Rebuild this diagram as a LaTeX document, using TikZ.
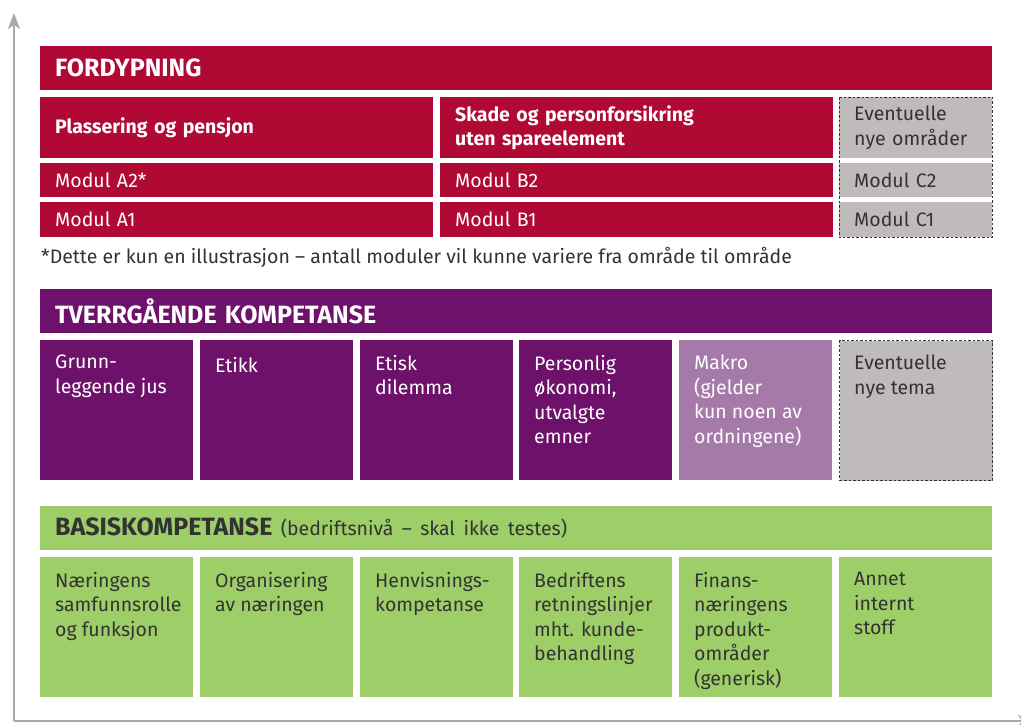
\documentclass[tikz,border=0pt]{standalone}
\usepackage{fontspec}
\setmainfont{Fira Sans}
\usetikzlibrary{arrows.meta}

\definecolor{fordred}{RGB}{176,10,52}
\definecolor{tverrpurple}{RGB}{110,17,106}
\definecolor{makropurple}{RGB}{166,122,168}
\definecolor{basisgreen}{RGB}{158,206,104}
\definecolor{newgray}{RGB}{191,187,187}
\definecolor{darktext}{RGB}{51,51,51}
\definecolor{axisgray}{RGB}{170,170,170}

\tikzset{
  axis/.style={draw=axisgray, line width=2pt, -{Stealth[length=16pt,width=12pt,inset=4pt]}},
  band/.style={rectangle, anchor=north west, inner sep=0pt, inner xsep=15pt,
    minimum height=44pt, text width=922pt, align=left,
    font=\fontsize{25}{28}\selectfont\bfseries},
  cell/.style={rectangle, anchor=north west, inner sep=0pt, inner xsep=15pt,
    align=left, font=\fontsize{19.5}{24.5}\selectfont},
  tile/.style={rectangle, anchor=north west, inner sep=0pt,
    minimum width=153pt, minimum height=140pt},
  tiletext/.style={anchor=north west, inner sep=0pt, xshift=15pt, yshift=-15pt,
    align=left, font=\fontsize{19.5}{24.5}\selectfont, execute at begin node=\strut},
  dashbox/.style={draw=darktext, line width=1pt, dash pattern=on 2.5pt off 2pt},
}

\begin{document}
\begin{tikzpicture}[x=1pt,y=-1pt]
  \clip (0,0) rectangle (1021,724);

  % axes
  \coordinate (origin) at (14,721);
  \coordinate (ytop) at (14,13);
  \coordinate (xend) at (1034,721);
  \draw[axis] (origin) -- (ytop);
  \draw[axis] (origin) -- (xend);

  % fordypning
  \node[band, fill=fordred, text=white] (ford) at (40,46) {FORDYPNING};
  \node[cell, fill=fordred, text=white, text width=363pt, minimum height=61pt,
    font=\fontsize{19.5}{24.5}\selectfont\bfseries] (a0) at (40,97) {Plassering og pensjon};
  \node[cell, fill=fordred, text=white, text width=363pt, minimum height=34pt] (a2) at (40,163) {Modul A2*};
  \node[cell, fill=fordred, text=white, text width=363pt, minimum height=35pt] (a1) at (40,202) {Modul A1};
  \node[cell, fill=fordred, text=white, text width=363pt, minimum height=61pt,
    font=\fontsize{19.5}{24.5}\selectfont\bfseries] (b0) at (440,97) {Skade og personforsikring\\uten spareelement};
  \node[cell, fill=fordred, text=white, text width=363pt, minimum height=34pt] (b2) at (440,163) {Modul B2};
  \node[cell, fill=fordred, text=white, text width=363pt, minimum height=35pt] (b1) at (440,202) {Modul B1};
  \node[cell, fill=newgray, text=darktext, text width=123pt, minimum height=61pt] (c0) at (839,97) {Eventuelle\\nye områder};
  \node[cell, fill=newgray, text=darktext, text width=123pt, minimum height=34pt] (c2) at (839,163) {Modul C2};
  \node[cell, fill=newgray, text=darktext, text width=123pt, minimum height=35pt] (c1) at (839,202) {Modul C1};
  \draw[dashbox] (c0.north west) rectangle (c1.south east);

  \node[anchor=base west, inner sep=0pt, text=darktext, font=\fontsize{19.5}{24}\selectfont] (note) at (41,263)
    {*Dette er kun en illustrasjon – antall moduler vil kunne variere fra område til område};

  % tverrgaende kompetanse
  \node[band, fill=tverrpurple, text=white] (tverr) at (40,289) {TVERRGÅENDE KOMPETANSE};
  \node[tile, fill=tverrpurple] (t1) at (40,340) {};
  \node[tiletext, text=white] at (t1.north west) {Grunn-\\leggende jus};
  \node[tile, fill=tverrpurple] (t2) at (200,340) {};
  \node[tiletext, text=white] at (t2.north west) {Etikk};
  \node[tile, fill=tverrpurple] (t3) at (360,340) {};
  \node[tiletext, text=white] at (t3.north west) {Etisk\\dilemma};
  \node[tile, fill=tverrpurple] (t4) at (519,340) {};
  \node[tiletext, text=white] at (t4.north west) {Personlig\\økonomi,\\utvalgte\\emner};
  \node[tile, fill=makropurple] (t5) at (679,340) {};
  \node[tiletext, text=white] at (t5.north west) {Makro\\(gjelder\\kun noen av\\ordningene)};
  \node[tile, fill=newgray, dashbox] (t6) at (839,340) {};
  \node[tiletext, text=darktext] at (t6.north west) {Eventuelle\\nye tema};

  % basiskompetanse
  \node[band, fill=basisgreen, text=darktext] (basis) at (40,506)
    {BASISKOMPETANSE {\mdseries\fontsize{19.5}{24}\selectfont(bedriftsnivå – skal ikke testes)}};
  \node[tile, fill=basisgreen] (g1) at (40,557) {};
  \node[tiletext, text=darktext] at (g1.north west) {Næringens\\samfunnsrolle\\og funksjon};
  \node[tile, fill=basisgreen] (g2) at (200,557) {};
  \node[tiletext, text=darktext] at (g2.north west) {Organisering\\av næringen};
  \node[tile, fill=basisgreen] (g3) at (360,557) {};
  \node[tiletext, text=darktext] at (g3.north west) {Henvisnings-\\kompetanse};
  \node[tile, fill=basisgreen] (g4) at (519,557) {};
  \node[tiletext, text=darktext] at (g4.north west) {Bedriftens\\retningslinjer\\mht. kunde-\\behandling};
  \node[tile, fill=basisgreen] (g5) at (679,557) {};
  \node[tiletext, text=darktext] at (g5.north west) {Finans-\\næringens\\produkt-\\områder\\(generisk)};
  \node[tile, fill=basisgreen] (g6) at (839,557) {};
  \node[tiletext, text=darktext] at (g6.north west) {Annet\\internt\\stoff};
\end{tikzpicture}
\end{document}
